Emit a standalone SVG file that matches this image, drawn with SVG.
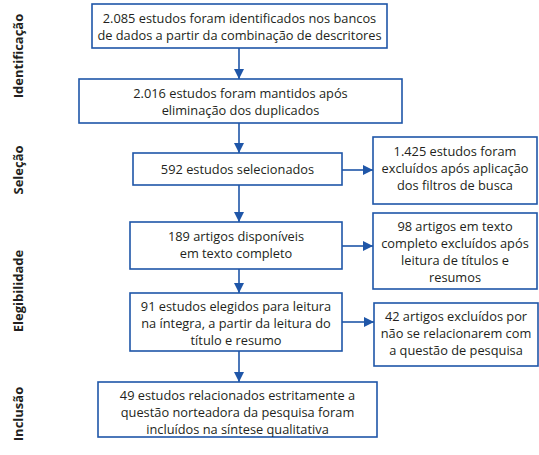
<svg xmlns="http://www.w3.org/2000/svg" width="539" height="455" viewBox="0 0 539 455">
<defs>
<marker id="ah" viewBox="0 0 10 10" refX="10" refY="5" markerWidth="10" markerHeight="10" markerUnits="userSpaceOnUse" orient="auto">
<path d="M0,0 L10,5 L0,10 Z" fill="#1f56a8"/>
</marker>
<style>
.box{fill:#fff;stroke:#1f56a8;stroke-width:1.6}
.t{font-family:"Open Sans","Noto Sans","Liberation Sans",sans-serif;font-size:12.8px;fill:#231f20;text-anchor:middle}
.side{font-family:"Open Sans","Noto Sans","Liberation Sans",sans-serif;font-size:13px;font-weight:bold;fill:#231f20;text-anchor:middle}
.c{stroke:#1f56a8;stroke-width:1.6;fill:none;marker-end:url(#ah)}
</style>
</defs>
<rect width="539" height="455" fill="#fff"/>
<g id="labels">
<text class="side" transform="translate(23,56) rotate(-90)">Identificação</text>
<text class="side" transform="translate(23,170) rotate(-90)">Seleção</text>
<text class="side" transform="translate(23,291) rotate(-90)">Elegibilidade</text>
<text class="side" transform="translate(23,414) rotate(-90)">Inclusão</text>
</g>
<g id="connectors">
<line class="c" x1="239" y1="48" x2="239" y2="79"/>
<line class="c" x1="239" y1="123" x2="239" y2="153"/>
<line class="c" x1="239" y1="185" x2="239" y2="222"/>
<line class="c" x1="239" y1="269" x2="239" y2="293"/>
<line class="c" x1="239" y1="351" x2="239" y2="382"/>
<line class="c" x1="342" y1="170" x2="373" y2="170"/>
<line class="c" x1="342" y1="246" x2="373" y2="246"/>
<line class="c" x1="342" y1="322" x2="374" y2="322"/>
</g>
<g id="n1"><rect class="box" x="92" y="4" width="295" height="44"/>
<text class="t" x="239.5" y="23">2.085 estudos foram identificados nos bancos</text>
<text class="t" x="239.5" y="40">de dados a partir da combinação de descritores</text></g>
<g id="n2"><rect class="box" x="79" y="79" width="323" height="44"/>
<text class="t" x="240.5" y="98">2.016 estudos foram mantidos após</text>
<text class="t" x="240.5" y="115">eliminação dos duplicados</text></g>
<g id="n3"><rect class="box" x="133" y="153" width="209" height="32"/>
<text class="t" x="237.5" y="173.5">592 estudos selecionados</text></g>
<g id="n4"><rect class="box" x="373" y="137" width="164" height="67"/>
<text class="t" x="455" y="156">1.425 estudos foram</text>
<text class="t" x="455" y="173">excluídos após aplicação</text>
<text class="t" x="455" y="190">dos filtros de busca</text></g>
<g id="n5"><rect class="box" x="130" y="222" width="212" height="47"/>
<text class="t" x="236" y="241">189 artigos disponíveis</text>
<text class="t" x="236" y="258">em texto completo</text></g>
<g id="n6"><rect class="box" x="373" y="213" width="164" height="76"/>
<text class="t" x="455" y="231">98 artigos em texto</text>
<text class="t" x="455" y="248">completo excluídos após</text>
<text class="t" x="455" y="265">leitura de títulos e</text>
<text class="t" x="455" y="282">resumos</text></g>
<g id="n7"><rect class="box" x="130" y="293" width="212" height="58"/>
<text class="t" x="236" y="311">91 estudos elegidos para leitura</text>
<text class="t" x="236" y="328">na íntegra, a partir da leitura do</text>
<text class="t" x="236" y="345">título e resumo</text></g>
<g id="n8"><rect class="box" x="374" y="303" width="164" height="63"/>
<text class="t" x="456" y="321">42 artigos excluídos por</text>
<text class="t" x="456" y="338">não se relacionarem com</text>
<text class="t" x="456" y="355">a questão de pesquisa</text></g>
<g id="n9"><rect class="box" x="98" y="382" width="279" height="55"/>
<text class="t" x="237.5" y="400">49 estudos relacionados estritamente a</text>
<text class="t" x="237.5" y="417">questão norteadora da pesquisa foram</text>
<text class="t" x="237.5" y="434">incluídos na síntese qualitativa</text></g>
</svg>
